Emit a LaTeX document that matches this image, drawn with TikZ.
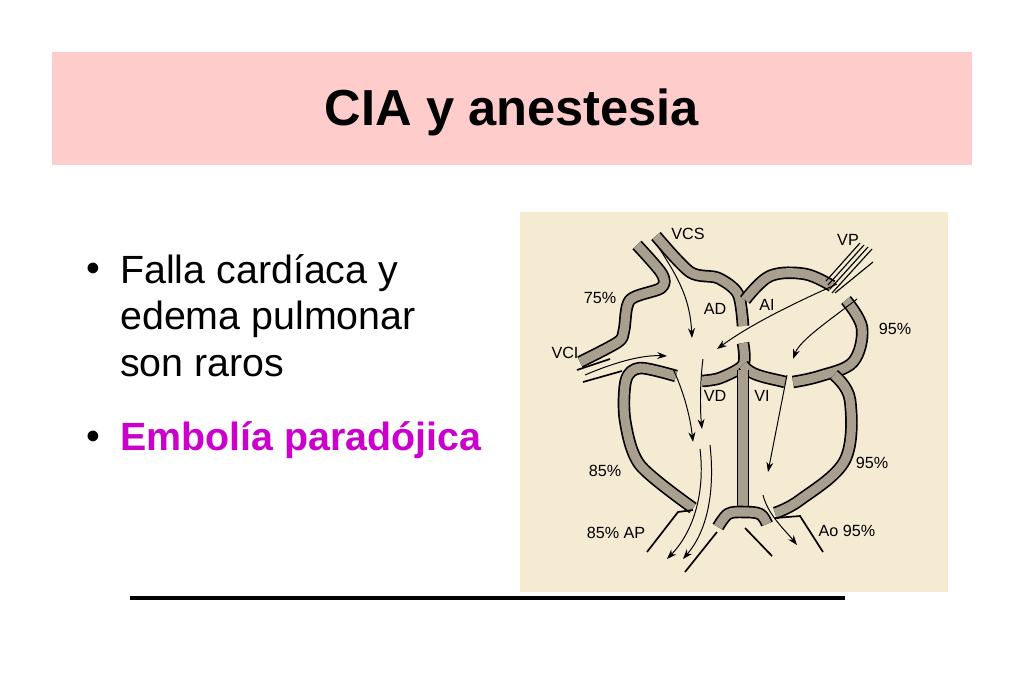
\documentclass[tikz,border=0pt]{standalone}
\usepackage{fontspec}
\setmainfont{Liberation Sans}
\usetikzlibrary{arrows.meta}
\definecolor{titlepink}{HTML}{FFCCCC}
\definecolor{cream}{HTML}{F5EBD3}
\definecolor{hatch}{HTML}{A89F8E}
\definecolor{embolia}{HTML}{CC00CC}
\tikzset{
  wall/.style={line width=1.2pt, double=hatch, double distance=6.5pt, line join=round},
  vessel/.style={line width=1.2pt},
  flow/.style={line width=0.7pt, -{Stealth[length=7pt,width=5pt]}},
  lbl/.style={font=\fontsize{11.5}{13}\selectfont, inner sep=0pt}
}
\begin{document}
\begin{tikzpicture}[x=0.025cm, y=-0.025cm]
     \useasboundingbox (0,0) rectangle (1024,683);
     % title bar
     \fill[titlepink] (52,52) rectangle (972,165);
     \node[font=\fontsize{36}{40}\selectfont\bfseries] (title) at (512,112) {CIA y anestesia};
     % bullets
     \node[anchor=west, font=\fontsize{28}{30}\selectfont] (b1) at (82,272) {•};
     \node[anchor=north west, align=left, font=\fontsize{28}{33}\selectfont, inner sep=0pt] (t1) at (120,254) {Falla cardíaca y\\edema pulmonar\\son raros};
     \node[anchor=west, font=\fontsize{28}{30}\selectfont] (b2) at (82,440) {•};
     \node[anchor=west, font=\fontsize{28}{30}\selectfont\bfseries, text=embolia, inner sep=0pt] (t2) at (120,440) {Embolía paradójica};
     \draw[line width=3pt] (130,598) -- (845,598);
     % heart picture
     \fill[cream] (520,212) rectangle (948,592);
     % right atrium outer wall
     \draw[wall] plot[smooth, tension=0.5] coordinates {(637,245) (662,274) (661,288) (630,300) (624,330) (618,342) (580,362)};
     % VCS right line and atrial roof to septum
     \draw[wall] plot[smooth, tension=0.5] coordinates {(656,236) (690,272) (718,278) (738,294) (743,326)};
     % left atrium roof
     \draw[wall] plot[smooth, tension=0.6] coordinates {(745,300) (770,276) (805,274) (832,286)};
     % pulmonary veins
     \foreach \d in {0,4,8,12} {
       \draw[line width=0.8pt] (826+\d/2,281+\d) -- (860+\d,243+\d/2);
     }
     \draw[line width=0.8pt] (835,293) -- (873,262);
     % left atrium right wall
     \draw[wall] plot[smooth, tension=0.6] coordinates {(846,300) (862,328) (853,362) (820,376) (793,382)};
     % left ventricle outer wall
     \draw[wall] plot[smooth, tension=0.6] coordinates {(834,375) (850,400) (845,460) (800,500) (775,513)};
     % aorta
     \draw[vessel] (775,518) -- (800,516) -- (823,552);
     \draw[vessel] (745,528) -- (772,556);
     % right ventricle outer wall with tricuspid leaflet
     \draw[wall] plot[smooth, tension=0.5] coordinates {(676,376) (640,368) (626,380) (625,420) (640,465) (693,508)};
     % inferior vena cava
     \draw[vessel] (577,370) -- (610,359);
     \draw[vessel] (583,382) -- (622,371);
     % septum
     \draw[wall] plot[smooth, tension=0.5] coordinates {(743,343) (743,365) (720,378) (702,381)};
     \draw[wall] (743,365) .. controls (750,376) and (770,378) .. (785,382);
     \draw[wall] (743,370) -- (743,512);
     \draw[wall] plot[smooth, tension=0.6] coordinates {(718,527) (728,514) (743,512) (760,514) (767,524)};
     % pulmonary artery
     \draw[vessel] (693,510) -- (678,512) -- (647,552);
     \draw[vessel] (717,532) -- (685,572);
     % blood flow
     \draw[flow] (657,245) .. controls (680,280) and (690,300) .. (692,338);
     \draw[flow] (585,375) .. controls (620,360) and (645,355) .. (667,356);
     \draw[flow] (837,284) .. controls (790,305) and (750,325) .. (717,349);
     \draw[flow] (857,299) .. controls (830,320) and (800,340) .. (793,359);
     \draw[flow] (673,369) .. controls (683,390) and (690,415) .. (693,442);
     \draw[flow] (703,359) .. controls (700,380) and (700,410) .. (702,429);
     \draw[flow] (787,375) -- (768,472);
     \draw[flow] (700,449) .. controls (705,490) and (695,530) .. (667,559);
     \draw[flow] (710,445) .. controls (715,490) and (708,530) .. (683,559);
     \draw[flow] (763,495) .. controls (768,515) and (785,530) .. (797,545);
     % labels
     \node[lbl] (vcs) at (688,234) {VCS};
     \node[lbl] (vp) at (848,240) {VP};
     \node[lbl] (p75) at (600,298) {75\%};
     \node[lbl] (ad) at (715,309) {AD};
     \node[lbl] (ai) at (767,305) {AI};
     \node[lbl] (p95a) at (895,329) {95\%};
     \node[lbl] (vci) at (565,353) {VCI};
     \node[lbl] (vd) at (715,396) {VD};
     \node[lbl] (vi) at (762,396) {VI};
     \node[lbl] (p85) at (605,471) {85\%};
     \node[lbl] (p95b) at (872,463) {95\%};
     \node[lbl] (ap) at (616,533) {85\% AP};
     \node[lbl] (ao) at (847,531) {Ao 95\%};
\end{tikzpicture}
\end{document}
